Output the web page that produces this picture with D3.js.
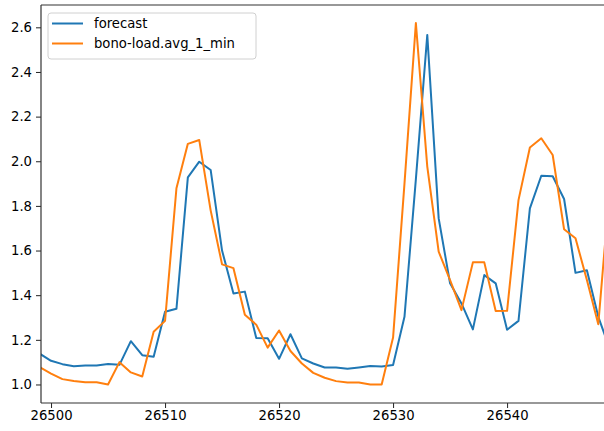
<!DOCTYPE html>
<html>
<head>
<meta charset="utf-8">
<script src="https://cdn.jsdelivr.net/npm/d3@7"></script>
<style>
  body { margin: 0; background: #fff; }
  svg { font-family: 'DejaVu Sans', sans-serif; }
  .tick text { font-size: 13.2px; fill: #000; }
</style>
</head>
<body>
<svg width="604" height="431"></svg>
<script>
const steps = d3.range(26499, 26550);

const forecast = [
  1.138, 1.106, 1.091, 1.082, 1.085, 1.085, 1.092, 1.088, 1.194, 1.131,
  1.124, 1.326, 1.339, 1.928, 1.998, 1.961, 1.600, 1.408, 1.416, 1.208,
  1.207, 1.115, 1.225, 1.117, 1.094, 1.076, 1.076, 1.070, 1.076, 1.083,
  1.081, 1.087, 1.303, 1.920, 2.566, 1.744, 1.453, 1.363, 1.247, 1.490,
  1.453, 1.245, 1.285, 1.789, 1.935, 1.933, 1.831, 1.500, 1.512, 1.303,
  1.160
];

const load = [
  1.078, 1.049, 1.024, 1.016, 1.010, 1.010, 1.000, 1.100, 1.054, 1.036,
  1.236, 1.285, 1.879, 2.078, 2.095, 1.780, 1.538, 1.521, 1.312, 1.268,
  1.165, 1.242, 1.150, 1.094, 1.052, 1.030, 1.015, 1.009, 1.009, 1.000,
  1.000, 1.210, 1.900, 2.619, 1.976, 1.595, 1.468, 1.333, 1.547, 1.547,
  1.329, 1.330, 1.826, 2.062, 2.103, 2.028, 1.695, 1.655, 1.468, 1.270,
  1.880
];

const xTicks = [26500, 26510, 26520, 26530, 26540];
const yTicks = [1.0, 1.2, 1.4, 1.6, 1.8, 2.0, 2.2, 2.4, 2.6];

const seriesNames = ['forecast', 'bono-load.avg_1_min'];
const seriesColors = ['#1f77b4', '#ff7f0e'];

const svg = d3.select('svg');
const width = +svg.attr('width');
const height = +svg.attr('height');

const margin = { top: 5, right: 0, bottom: 28, left: 41 };
const innerWidth = width - margin.left - margin.right;
const innerHeight = height - margin.top - margin.bottom;

const xScale = d3.scaleLinear()
  .domain([26499.12, 26548.5])
  .range([0, innerWidth]);

const yScale = d3.scaleLinear()
  .domain([0.917, 2.70])
  .range([innerHeight, 0]);

const g = svg.append('g')
  .attr('transform', `translate(${margin.left},${margin.top})`);

g.append('clipPath')
  .attr('id', 'plot-clip')
  .append('rect')
  .attr('width', innerWidth)
  .attr('height', innerHeight);

// axes
const yAxis = g.append('g')
  .call(d3.axisLeft(yScale).tickValues(yTicks).tickFormat(d3.format('.1f')).tickSize(5).tickPadding(4));
yAxis.select('.domain').remove();

const xAxis = g.append('g')
  .attr('transform', `translate(0,${innerHeight})`)
  .call(d3.axisBottom(xScale).tickValues(xTicks).tickFormat(d3.format('d')).tickSize(5).tickPadding(3));
xAxis.select('.domain').remove();
xAxis.selectAll('.tick text').attr('dy', '0.68em');

g.selectAll('.tick line').attr('stroke', '#222').attr('stroke-width', 1);
g.selectAll('.tick text').attr('font-family', "'DejaVu Sans', sans-serif");

// lines
const series = [forecast, load];
const line = d3.line()
  .x((d, i) => xScale(steps[i]))
  .y(d => yScale(d));

g.append('g')
  .attr('clip-path', 'url(#plot-clip)')
  .selectAll('path')
  .data(series)
  .enter()
  .append('path')
  .attr('d', line)
  .attr('fill', 'none')
  .attr('stroke', (d, i) => seriesColors[i])
  .attr('stroke-width', 2)
  .attr('stroke-linejoin', 'round')
  .attr('stroke-linecap', 'square');

// spines (right spine is cut off in the picture)
const spine = g.append('g').attr('stroke', '#333').attr('stroke-width', 1.2).attr('fill', 'none');
spine.append('line').attr('x1', 0).attr('x2', innerWidth).attr('y1', 0).attr('y2', 0);
spine.append('line').attr('x1', 0).attr('x2', innerWidth).attr('y1', innerHeight).attr('y2', innerHeight);
spine.append('line').attr('x1', 0).attr('x2', 0).attr('y1', 0).attr('y2', innerHeight);

// legend
const legend = svg.append('g').attr('transform', 'translate(48,13)');
legend.append('rect')
  .attr('width', 208)
  .attr('height', 46)
  .attr('rx', 3)
  .attr('fill', 'white')
  .attr('fill-opacity', 0.8)
  .attr('stroke', '#d0d0d0');

const items = legend.selectAll('.item')
  .data(seriesNames)
  .enter()
  .append('g')
  .attr('class', 'item')
  .attr('transform', (d, i) => `translate(0,${10.5 + i * 20})`);

items.append('line')
  .attr('x1', 4)
  .attr('x2', 35)
  .attr('stroke', (d, i) => seriesColors[i])
  .attr('stroke-width', 2);

items.append('text')
  .attr('x', 46)
  .attr('dy', '0.35em')
  .style('font-size', '13.2px')
  .text(d => d);
</script>
</body>
</html>
